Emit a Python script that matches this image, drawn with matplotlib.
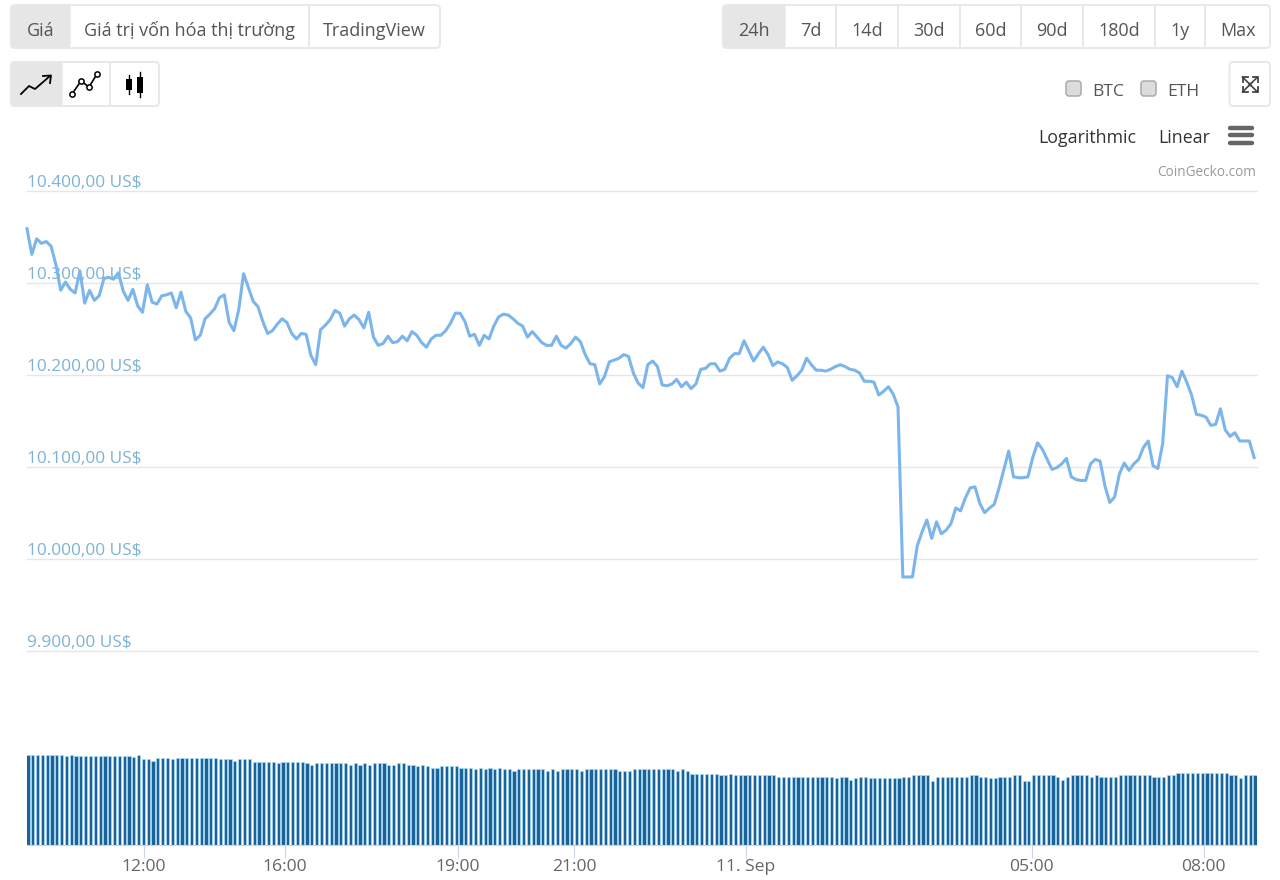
import numpy as np
import matplotlib
matplotlib.use("Agg")
import matplotlib.pyplot as plt
from matplotlib.patches import FancyBboxPatch, Rectangle

W, H = 1280, 880
FONT = "Open Sans"

# one value every 5 minutes or so
prices = [
    10359, 10331, 10348, 10343, 10345, 10340, 10320, 10292, 10301, 10293,
    10289, 10313, 10278, 10292, 10281, 10286, 10305, 10306, 10304, 10311,
    10291, 10281, 10293, 10275, 10268, 10298, 10279, 10277, 10286, 10287,
    10289, 10273, 10290, 10269, 10262, 10238, 10243, 10261, 10266, 10272,
    10284, 10287, 10257, 10248, 10271, 10310, 10295, 10280, 10274, 10258,
    10245, 10248, 10255, 10261, 10257, 10245, 10239, 10245, 10244, 10221,
    10211, 10249, 10254, 10260, 10270, 10267, 10253, 10261, 10265, 10260,
    10251, 10268, 10241, 10232, 10234, 10242, 10235, 10236, 10242, 10237,
    10247, 10243, 10235, 10230, 10239, 10243, 10243, 10248, 10256, 10267,
    10267, 10258, 10242, 10244, 10232, 10243, 10239, 10253, 10263, 10266,
    10265, 10261, 10256, 10253, 10241, 10247, 10241, 10235, 10232, 10232,
    10242, 10232, 10229, 10234, 10241, 10236, 10222, 10212, 10211, 10190,
    10198, 10214, 10216, 10218, 10222, 10220, 10202, 10191, 10186, 10211,
    10215, 10209, 10189, 10188, 10190, 10195, 10187, 10192, 10185, 10190,
    10206, 10207, 10212, 10212, 10204, 10206, 10218, 10223, 10223, 10237,
    10226, 10215, 10223, 10230, 10222, 10210, 10214, 10212, 10208, 10194,
    10199, 10205, 10218, 10211, 10205, 10205, 10204, 10206, 10209, 10211,
    10209, 10206, 10205, 10202, 10193, 10193, 10192, 10178, 10182, 10187,
    10179, 10165, 9980, 9980, 9980, 10014, 10029, 10042, 10022, 10040,
    10027, 10031, 10038, 10055, 10052, 10066, 10077, 10078, 10060, 10050,
    10055, 10059, 10077, 10097, 10117, 10089, 10088, 10088, 10089, 10110,
    10126, 10119, 10108, 10097, 10099, 10103, 10109, 10089, 10086, 10085,
    10085, 10103, 10108, 10106, 10079, 10061, 10067, 10092, 10104, 10096,
    10103, 10108, 10121, 10128, 10101, 10098, 10125, 10199, 10197, 10187,
    10204, 10192, 10178, 10157, 10156, 10154, 10145, 10146, 10163, 10140,
    10133, 10137, 10128, 10128, 10128, 10110,
]

# relative volume, no scale on the chart
volumes = [
    90.3, 90.3, 90.3, 90.3, 90.3, 90.3, 90.3, 89.7, 88.7, 90.0,
    88.7, 88.7, 88.7, 88.7, 88.7, 88.7, 88.7, 88.7, 88.7, 88.7,
    88.7, 88.7, 87.7, 90.3, 86.0, 86.0, 84.3, 87.3, 87.3, 87.3,
    85.7, 87.3, 87.3, 87.3, 87.3, 87.3, 87.3, 87.3, 87.3, 87.3,
    86.0, 86.0, 86.0, 84.3, 86.0, 86.0, 86.0, 83.0, 83.0, 83.0,
    83.0, 83.0, 81.7, 83.0, 83.0, 83.0, 83.0, 83.0, 81.7, 80.3,
    81.7, 81.7, 81.7, 81.7, 81.7, 81.7, 81.7, 80.0, 81.7, 80.3,
    81.7, 80.3, 81.7, 81.7, 81.7, 80.3, 80.3, 81.7, 81.7, 80.3,
    80.3, 79.0, 80.0, 78.7, 77.0, 77.0, 78.7, 78.7, 78.7, 78.7,
    77.0, 77.0, 77.0, 75.7, 77.0, 75.7, 77.0, 75.7, 77.0, 75.7,
    75.7, 74.3, 75.7, 75.7, 75.7, 75.7, 75.7, 75.7, 74.3, 75.7,
    74.3, 75.7, 75.7, 75.7, 75.7, 73.7, 75.7, 75.7, 75.7, 75.7,
    75.7, 75.7, 75.7, 74.0, 74.0, 74.3, 75.7, 75.7, 75.7, 75.7,
    75.7, 75.7, 75.7, 75.7, 75.7, 74.0, 75.7, 74.0, 71.3, 71.3,
    71.3, 71.3, 71.3, 71.3, 69.7, 69.7, 71.3, 70.0, 70.0, 70.0,
    70.0, 70.0, 70.0, 70.0, 70.0, 70.0, 68.3, 68.3, 68.3, 68.3,
    68.3, 68.3, 68.3, 68.3, 68.3, 68.3, 68.3, 68.3, 67.0, 68.3,
    68.3, 65.3, 67.0, 68.3, 68.3, 67.0, 67.0, 67.0, 67.0, 67.0,
    67.0, 67.0, 68.3, 68.3, 70.0, 70.0, 70.0, 70.0, 63.7, 68.3,
    68.3, 68.3, 68.3, 68.3, 68.3, 68.3, 70.0, 70.0, 68.3, 68.3,
    67.0, 67.0, 68.3, 68.3, 68.3, 70.0, 70.0, 63.7, 63.7, 70.0,
    70.0, 70.0, 70.0, 70.0, 68.3, 65.3, 68.3, 70.0, 70.0, 70.0,
    70.0, 68.3, 70.0, 68.3, 68.3, 68.3, 68.3, 70.0, 70.0, 70.0,
    70.0, 70.0, 70.0, 70.0, 68.3, 68.3, 68.3, 70.0, 70.0, 71.7,
    71.7, 71.7, 71.7, 71.7, 71.7, 71.7, 71.7, 71.7, 71.7, 71.7,
    70.0, 70.0, 67.0, 70.0, 70.0, 70.0,
]

price_ticks = [9900, 10000, 10100, 10200, 10300, 10400]
price_labels = ["9.900,00 US$", "10.000,00 US$", "10.100,00 US$",
                "10.200,00 US$", "10.300,00 US$", "10.400,00 US$"]

# sample index of each time label
time_ticks = [24.3, 53.6, 89.5, 113.7, 149.4, 208.8, 244.5]
time_labels = ["12:00", "16:00", "19:00", "21:00", "11. Sep", "05:00", "08:00"]

top_tabs = ["Giá", "Giá trị vốn hóa thị trường", "TradingView"]
top_tab_edges = [11, 70, 309, 440]
range_tabs = ["24h", "7d", "14d", "30d", "60d", "90d", "180d", "1y", "Max"]
range_tab_edges = [723, 785, 836, 898, 960, 1021, 1083, 1155, 1205, 1270]


def ax_rect(x0, y0, x1, y1):
    """Pixel box (y going down) to figure fractions."""
    return [x0 / W, 1 - y1 / H, (x1 - x0) / W, (y1 - y0) / H]


def draw_button_group(ui, edges, y0, y1):
    """Rounded group with the first cell active."""
    ui.add_patch(FancyBboxPatch((edges[0], y0), edges[-1] - edges[0], y1 - y0,
                                boxstyle="round,pad=0,rounding_size=4",
                                fc="white", ec="#e8e8e8", lw=1.4, zorder=1))
    ui.add_patch(FancyBboxPatch((edges[0], y0), edges[1] - edges[0], y1 - y0,
                                boxstyle="round,pad=0,rounding_size=4",
                                fc="#e6e6e6", ec="#e8e8e8", lw=1.0, zorder=2))
    ui.add_patch(Rectangle((edges[1] - 6, y0), 6, y1 - y0, fc="#e6e6e6", ec="none", zorder=2))
    for x in edges[2:-1]:
        ui.plot([x, x], [y0, y1], color="#e8e8e8", lw=1.4, zorder=2)


def draw_tab_labels(ui, labels, edges, y):
    for i, label in enumerate(labels):
        ui.text((edges[i] + edges[i + 1]) / 2, y, label, ha="center", va="center",
                fontsize=13, color="#555555", family=FONT, zorder=3)


def draw_icons(ui):
    # line icon
    ui.plot([21, 29, 35, 50], [94, 86, 89, 76], color="black", lw=1.3, zorder=3)
    ui.plot([43, 51, 50], [76, 75.5, 83], color="black", lw=1.3, zorder=3)
    # line with markers
    ui.plot([72, 81, 89, 97], [94, 81, 87, 74], color="black", lw=1.2, marker="o",
            ms=3.8, mfc="white", mew=1.1, zorder=3)
    # candles
    ui.plot([129, 129], [75, 94], color="black", lw=1, zorder=3)
    ui.plot([140, 140], [72, 97], color="black", lw=1, zorder=3)
    ui.add_patch(Rectangle((126, 79), 6, 11, fc="black", ec="none", zorder=3))
    ui.add_patch(Rectangle((137, 77), 6, 16, fc="black", ec="none", zorder=3))
    # expand icon
    ui.add_patch(FancyBboxPatch((1229.5, 62), 40.5, 44, boxstyle="round,pad=0,rounding_size=4",
                                fc="white", ec="#e8e8e8", lw=1.4, zorder=1))
    for sx, sy in [(-1, -1), (1, -1), (-1, 1), (1, 1)]:
        cx, cy = 1250, 84.5
        ui.plot([cx - 1 * sx, cx + 7.5 * sx], [cy - 1 * sy, cy + 7.5 * sy], color="#444444", lw=1.2, zorder=3)
        ui.plot([cx + 2.5 * sx, cx + 7.5 * sx, cx + 7.5 * sx],
                [cy + 7.5 * sy, cy + 7.5 * sy, cy + 2.5 * sy], color="#444444", lw=1.3, zorder=3)
    # hamburger
    for y in [128.5, 135.5, 143]:
        ui.plot([1230, 1252], [y, y], color="#666666", lw=3.2, solid_capstyle="round", zorder=3)


def draw_controls(ui):
    draw_button_group(ui, top_tab_edges, 5, 48)
    draw_button_group(ui, range_tab_edges, 5, 48)
    draw_button_group(ui, [11, 62, 110, 159], 62, 106)
    draw_tab_labels(ui, top_tabs, top_tab_edges, 30.5)
    draw_tab_labels(ui, range_tabs, range_tab_edges, 30.5)
    draw_icons(ui)

    for x, label, text_x in [(1066, "BTC", 1092), (1141, "ETH", 1167)]:
        ui.add_patch(FancyBboxPatch((x, 81), 15, 15, boxstyle="round,pad=0,rounding_size=3",
                                    fc="#dcdcdc", ec="#ababab", lw=1.1, zorder=2))
        ui.text(text_x, 92, label, ha="left", va="center", fontsize=12.6, color="#555555",
                family=FONT, zorder=3)

    ui.text(1038, 138, "Logarithmic", ha="left", va="center", fontsize=12.8, color="#333333",
            family=FONT, zorder=3)
    ui.text(1158, 138, "Linear", ha="left", va="center", fontsize=12.8, color="#333333",
            family=FONT, zorder=3)
    ui.text(1256, 172.5, "CoinGecko.com", ha="right", va="center", fontsize=9.8, color="#999999",
            family=FONT, zorder=3)


def main():
    fig = plt.figure(figsize=(W / 100, H / 100), dpi=100, facecolor="white")

    x = np.arange(len(prices))
    xlim = (0, 255.6)

    # price panel
    ax = fig.add_axes(ax_rect(27, 191, 1257, 650.5))
    ax.plot(x, prices, color="#7cb5ec", lw=2.2, solid_joinstyle="round", zorder=3, clip_on=False)
    ax.set_xlim(*xlim)
    ax.set_ylim(9900, 10400)
    ax.set_xticks([])
    ax.set_yticks(price_ticks)
    ax.set_yticklabels([])
    ax.tick_params(axis="y", length=0)
    ax.yaxis.grid(True, color="#e6e6e6", lw=1.0, clip_on=False)
    ax.set_axisbelow(True)
    for value, label in zip(price_ticks, price_labels):
        ax.annotate(label, (0, value), xycoords=ax.get_yaxis_transform(),
                    xytext=(0, 2.6), textcoords="offset points", ha="left", va="baseline",
                    fontsize=12.4, color="#7db3d6", family=FONT, zorder=2)
    for spine in ax.spines.values():
        spine.set_visible(False)
    ax.patch.set_alpha(0)

    # volume panel
    vol = fig.add_axes(ax_rect(27, 749, 1257, 845))
    vol.bar(x + 0.2, volumes, width=0.66, color="#1b6299", edgecolor="#a6dcf6", lw=0.5)
    vol.set_xlim(*xlim)
    vol.set_ylim(0, 96)
    vol.set_yticks([])
    vol.set_xticks(time_ticks)
    vol.set_xticklabels(time_labels, fontsize=12.6, color="#666666", family=FONT)
    vol.tick_params(axis="x", length=9.5, width=0.8, color="#ccd6eb", pad=0.5)
    for name, spine in vol.spines.items():
        spine.set_visible(name == "bottom")
    vol.spines["bottom"].set_color("#ccd6eb")
    vol.patch.set_alpha(0)

    # buttons and other page furniture, in pixel coordinates
    ui = fig.add_axes([0, 0, 1, 1])
    ui.set_xlim(0, W)
    ui.set_ylim(H, 0)
    ui.axis("off")
    ui.patch.set_alpha(0)
    draw_controls(ui)

    fig.savefig("out.png", dpi=100)
    plt.close(fig)


if __name__ == "__main__":
    main()
